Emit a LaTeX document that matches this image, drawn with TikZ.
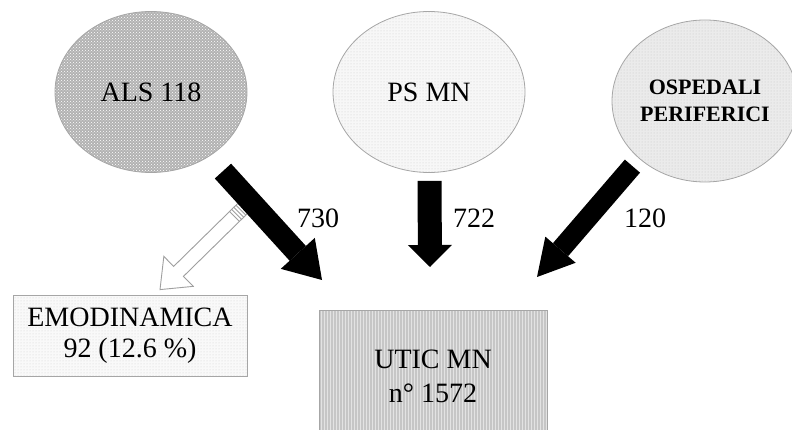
\documentclass[tikz,border=0pt]{standalone}
\usepackage{fontspec}
\setmainfont{Liberation Serif}
\usetikzlibrary{
    arrows.meta,
    shapes.geometric,
    patterns,
    calc
}
\tikzset{
    source/.style={
        ellipse, draw=gray!70, line width=0.8pt,
        inner sep=0pt, minimum width=192, minimum height=161,
        align=center, font=\fontsize{28}{31}\selectfont
    },
    target/.style={
        rectangle, draw=gray!70, line width=0.8pt,
        inner sep=0pt, minimum width=234, minimum height=81,
        align=center, font=\fontsize{28}{31}\selectfont
    },
    dense fill/.style={
        preaction={fill=gray!60}, pattern=crosshatch dots, pattern color=white
    },
    light fill/.style={
        preaction={fill=gray!6}, pattern=dots, pattern color=gray!40
    },
    medium fill/.style={
        preaction={fill=gray!16}, pattern=dots, pattern color=gray!45
    },
    pale fill/.style={
        preaction={fill=gray!5}, pattern=dots, pattern color=gray!35
    },
    stripe fill/.style={
        preaction={fill=gray!45}, pattern=vertical lines, pattern color=gray!22
    },
    flow/.style={
        line width=22pt,
        -{Triangle[length=36pt, width=46pt, line width=0pt]}
    },
    spill/.style={
        draw=gray!75, fill=white, line width=0.9pt, line join=miter
    },
    spill edge/.style={
        draw=gray!75, line width=0.9pt
    },
    count/.style={
        inner sep=0pt, font=\fontsize{28}{31}\selectfont
    }
}

\begin{document}
\begin{tikzpicture}[x=1pt, y=-1pt]
    \useasboundingbox (0,0) rectangle (792,430);
    \clip (0,0) rectangle (792,430);

    % -- sources --
    \node[source, dense fill] (als) at (151,92) {\raisebox{-3pt}{ALS 118}};
    \node[source, light fill] (ps) at (429,92) {\raisebox{-4pt}{PS MN}};
    \node[source, medium fill, minimum width=186, minimum height=162,
          font=\bfseries\fontsize{22}{27}\selectfont] (osp) at (705,101) {OSPEDALI\\PERIFERICI};

    % -- destinations --
    \node[target, pale fill] (emo) at (130,335.5) {EMODINAMICA\\92 (12.6 \%)};
    \node[target, stripe fill, minimum width=228, minimum height=132,
          font=\fontsize{28}{34}\selectfont] (utic) at (433,376) {UTIC MN\\ n° 1572};

    \coordinate (tipA) at (322,280);
    \coordinate (tipB) at (430,267);
    \coordinate (tipC) at (537,277);
    \coordinate (split) at ($(als)!0.58!(tipA)$);
    \coordinate (tipE) at ($(emo.north)+(30,-5)$);
    \coordinate (headE) at ($(tipE)!26pt!(split)$);

    % -- hollow arrow to emodinamica --
    \filldraw[spill] ($(split)!7pt!90:(tipE)$) -- ($(headE)!7pt!90:(tipE)$)
        -- ($(headE)!21pt!90:(tipE)$) -- (tipE) -- ($(headE)!21pt!-90:(tipE)$)
        -- ($(headE)!7pt!-90:(tipE)$) -- ($(split)!7pt!-90:(tipE)$) -- cycle;
    \foreach \d in {13pt,16pt,19pt,22pt} {
        \coordinate (band) at ($(split)!\d!(tipE)$);
        \draw[spill edge] ($(band)!7pt!90:(tipE)$) -- ($(band)!7pt!-90:(tipE)$);
    }

    % -- flows into UTIC --
    \draw[flow, shorten <=20pt] (als) -- (tipA);
    \draw[flow, line width=24pt, shorten <=8pt,
          -{Triangle[length=22pt, width=44pt, line width=0pt]}] (ps) -- (tipB);
    \draw[flow, line width=20pt, shorten <=10pt,
          -{Triangle[length=36pt, width=40pt, line width=0pt]}] (osp.south west) -- (tipC);

    \node[count] (n730) at (318,218) {730};
    \node[count] (n722) at (474,218) {722};
    \node[count] (n120) at (645,218) {120};
\end{tikzpicture}
\end{document}
